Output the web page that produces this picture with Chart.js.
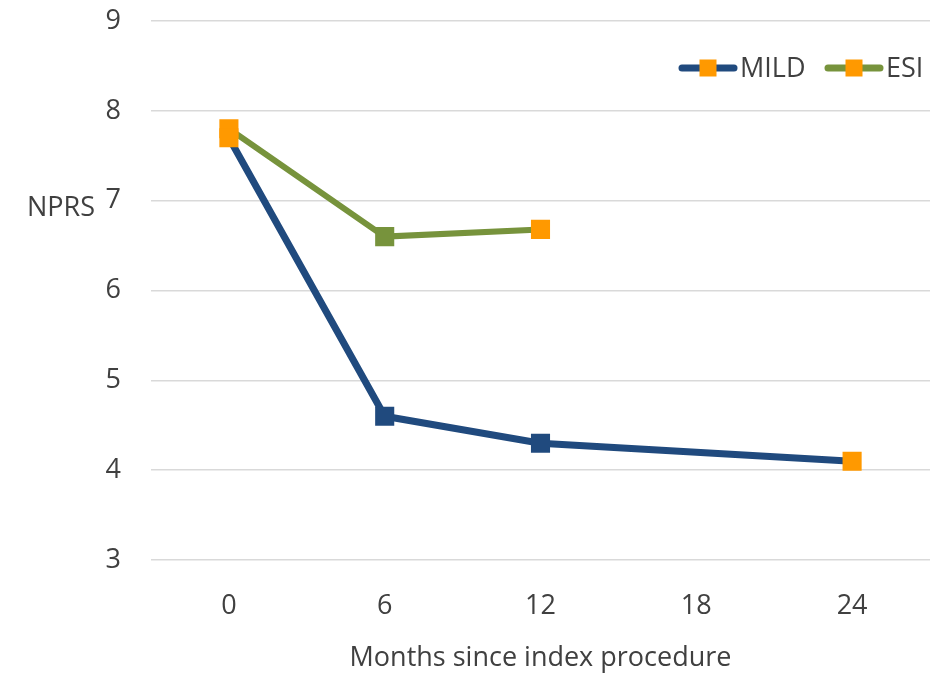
<!DOCTYPE html>
<html>
<head>
<meta charset="utf-8">
<script src="https://cdn.jsdelivr.net/npm/chart.js@4.4.1/dist/chart.umd.min.js"></script>
<style>
  html, body { margin: 0; padding: 0; background: #ffffff; }
  #wrap { width: 930px; height: 675px; }
</style>
</head>
<body>
<div id="wrap"><canvas id="c" width="930" height="675"></canvas></div>
<script>
// Follow-up months and mean NPRS pain scores per group
const months = ['0', '6', '12', '18', '24'];
const mildScores = [7.7, 4.6, 4.3, null, 4.1];
const esiScores = [7.8, 6.6, 6.68, null, null];
const yTicks = [3, 4, 5, 6, 7, 8, 9];

const BLUE = '#204A7E';
const GREEN = '#77933C';
const ORANGE = '#FF9900';
const TEXT = '#404040';
const FONT = '"Open Sans", Lato, sans-serif';
const FSIZE = 27;

// First and last measured points are highlighted in orange
function markerColors(values, base) {
  const idx = values.map((v, i) => (v === null ? -1 : i)).filter(i => i >= 0);
  const first = idx[0], last = idx[idx.length - 1];
  return values.map((v, i) => (i === first || i === last ? ORANGE : base));
}

// Legend drawn inside the plot area: line segment with an orange square, then label
const insideLegend = {
  id: 'insideLegend',
  afterDatasetsDraw(chart) {
    const ctx = chart.ctx;
    const y = 68;
    const items = [
      { ds: chart.data.datasets[0], x: 678 },
      { ds: chart.data.datasets[1], x: 824 }
    ];
    ctx.save();
    items.forEach(it => {
      ctx.strokeStyle = it.ds.borderColor;
      ctx.lineWidth = 7;
      ctx.lineCap = 'round';
      ctx.beginPath();
      ctx.moveTo(it.x + 4, y);
      ctx.lineTo(it.x + 56, y);
      ctx.stroke();
      ctx.fillStyle = ORANGE;
      ctx.fillRect(it.x + 21.5, y - 8.5, 17, 17);
      ctx.fillStyle = TEXT;
      ctx.font = FSIZE + 'px ' + FONT;
      ctx.textAlign = 'left';
      ctx.textBaseline = 'middle';
      ctx.fillText(it.ds.label, it.x + 62, y + 1);
    });
    ctx.restore();
  }
};

// Horizontal y-axis title beside the tick labels
const yTitle = {
  id: 'yTitle',
  afterDraw(chart) {
    const ctx = chart.ctx;
    const ys = chart.scales.y;
    ctx.save();
    ctx.fillStyle = TEXT;
    ctx.font = FSIZE + 'px ' + FONT;
    ctx.textAlign = 'left';
    ctx.textBaseline = 'middle';
    ctx.fillText('NPRS', 27, ys.getPixelForValue(7) + 8);
    ctx.restore();
  }
};

new Chart(document.getElementById('c'), {
  type: 'line',
  data: {
    labels: months,
    datasets: [
      {
        label: 'MILD',
        data: mildScores,
        borderColor: BLUE,
        borderWidth: 7,
        pointStyle: 'rect',
        pointRadius: 13.5,
        pointHoverRadius: 13.5,
        pointBorderWidth: 0,
        pointBackgroundColor: markerColors(mildScores, BLUE),
        spanGaps: true,
        tension: 0
      },
      {
        label: 'ESI',
        data: esiScores,
        borderColor: GREEN,
        borderWidth: 6,
        pointStyle: 'rect',
        pointRadius: 13.5,
        pointHoverRadius: 13.5,
        pointBorderWidth: 0,
        pointBackgroundColor: markerColors(esiScores, GREEN),
        spanGaps: true,
        tension: 0
      }
    ]
  },
  options: {
    responsive: false,
    animation: false,
    devicePixelRatio: 1,
    layout: { autoPadding: false, padding: { top: 21, right: 0, left: 0, bottom: 0 } },
    plugins: {
      legend: { display: false },
      tooltip: { enabled: false }
    },
    scales: {
      x: {
        type: 'category',
        offset: true,
        grid: { display: false },
        border: { display: false },
        ticks: { color: TEXT, font: { family: FONT, size: FSIZE }, padding: 22 },
        title: {
          display: true,
          text: 'Months since index procedure',
          color: TEXT,
          font: { family: FONT, size: FSIZE },
          padding: { top: 22, bottom: 0 }
        },
        afterFit(scale) {
          scale.height = 115;
          scale.paddingLeft = 0;
          scale.paddingRight = 0;
        }
      },
      y: {
        min: 3,
        max: 9,
        afterBuildTicks(scale) { scale.ticks = yTicks.map(v => ({ value: v })); },
        grid: { color: '#D9D9D9', lineWidth: 1.5, drawTicks: false },
        border: { display: false },
        ticks: { color: TEXT, font: { family: FONT, size: FSIZE }, padding: 30 },
        afterFit(scale) {
          scale.width = 151;
          scale.paddingTop = 0;
          scale.paddingBottom = 0;
        }
      }
    }
  },
  plugins: [insideLegend, yTitle]
});
</script>
</body>
</html>
